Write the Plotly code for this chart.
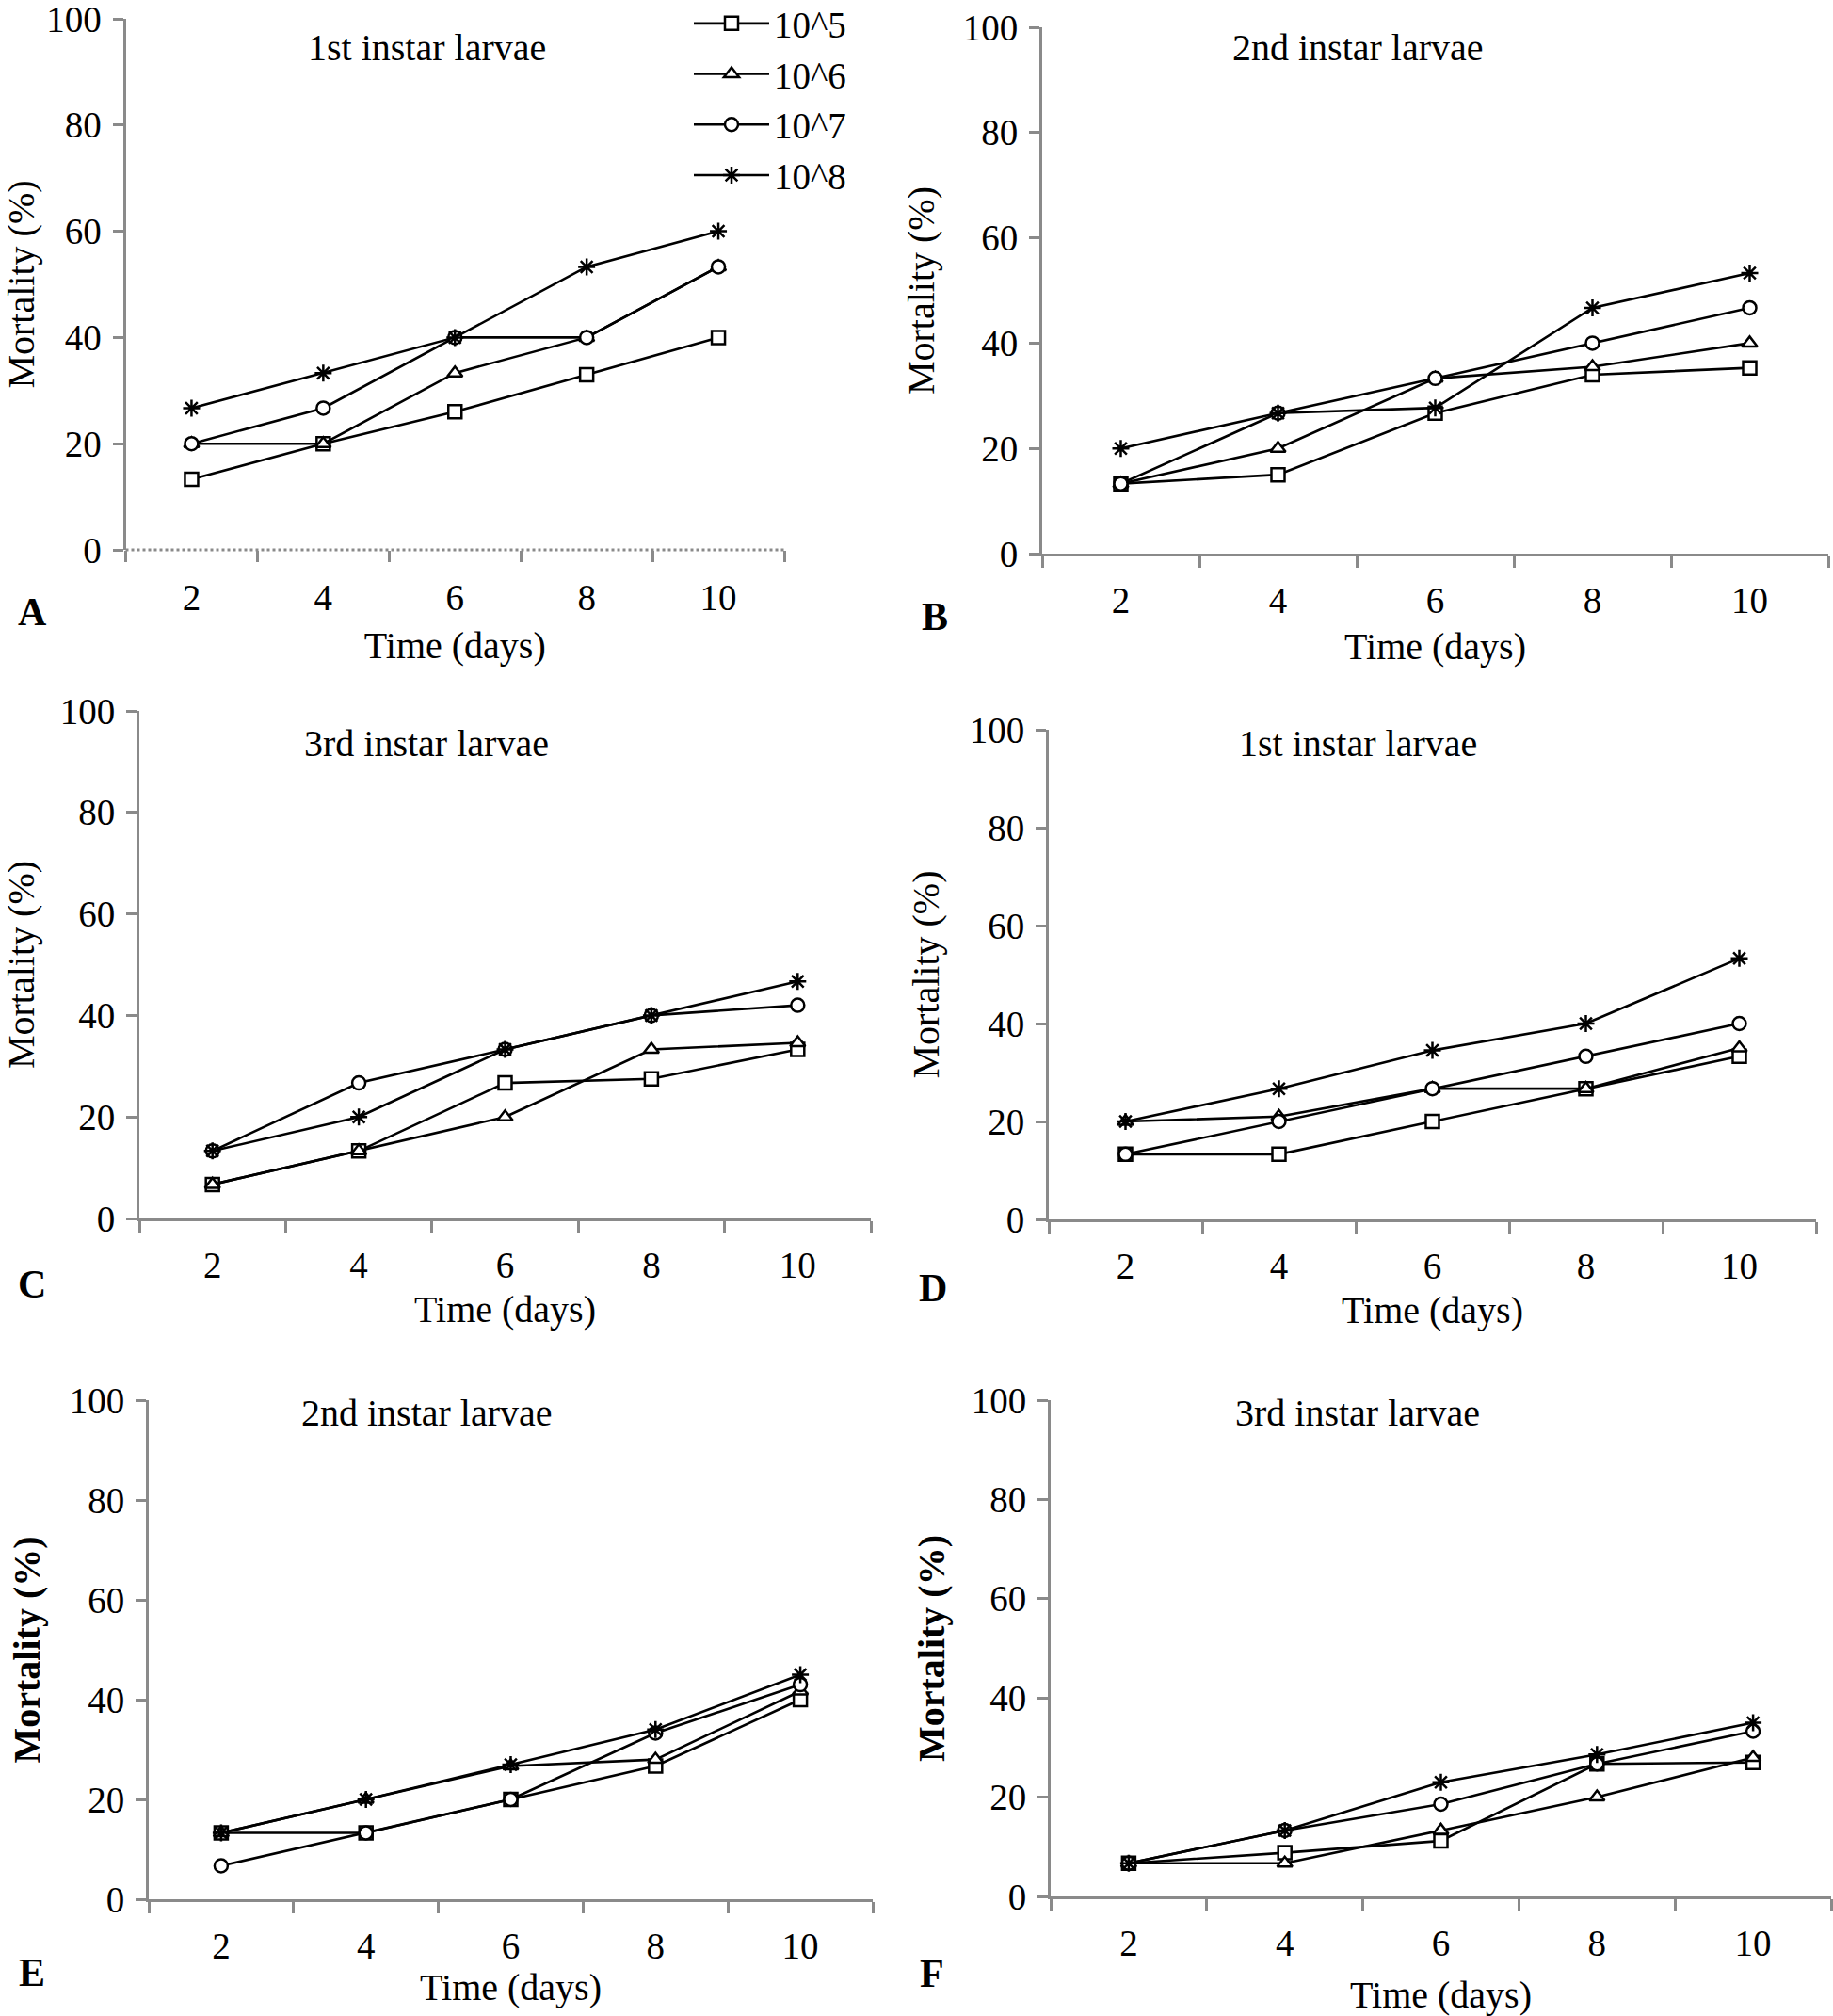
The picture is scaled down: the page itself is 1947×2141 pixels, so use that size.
import plotly.graph_objects as go

# ---------------- data ----------------
days = [2, 4, 6, 8, 10]
day_labels = ["2", "4", "6", "8", "10"]
series_names = ["10^5", "10^6", "10^7", "10^8"]
y_ticks = [0, 20, 40, 60, 80, 100]

a_1e5 = [13.3, 20, 26, 33, 40]
a_1e6 = [20, 20, 33.3, 40, 53.3]
a_1e7 = [20, 26.7, 40, 40, 53.3]
a_1e8 = [26.7, 33.3, 40, 53.3, 60]

b_1e5 = [13.3, 15, 26.7, 34, 35.3]
b_1e6 = [13.3, 20, 33.3, 35.5, 40]
b_1e7 = [13.3, 26.7, 33.3, 40, 46.7]
b_1e8 = [20, 26.7, 27.7, 46.7, 53.3]

c_1e5 = [6.7, 13.3, 26.7, 27.5, 33.3]
c_1e6 = [6.7, 13.3, 20, 33.3, 34.6]
c_1e7 = [13.3, 26.7, 33.3, 40, 42]
c_1e8 = [13.3, 20, 33.3, 40, 46.7]

d_1e5 = [13.3, 13.3, 20, 26.7, 33.3]
d_1e6 = [20, 21, 26.7, 26.7, 35]
d_1e7 = [13.3, 20, 26.7, 33.3, 40]
d_1e8 = [20, 26.7, 34.5, 40, 53.3]

e_1e5 = [13.3, 13.3, 20, 26.7, 40]
e_1e6 = [13.3, 20, 26.7, 28, 41.7]
e_1e7 = [6.7, 13.3, 20, 33.3, 43]
e_1e8 = [13.3, 20, 27, 34, 45]

f_1e5 = [6.7, 8.8, 11.2, 26.7, 27]
f_1e6 = [6.7, 6.7, 13.3, 20, 28]
f_1e7 = [6.7, 13.3, 18.6, 26.7, 33.3]
f_1e8 = [6.7, 13.3, 23, 28.6, 35]

panel_letters = ["A", "B", "C", "D", "E", "F"]
panel_titles = ["1st instar larvae", "2nd instar larvae", "3rd instar larvae",
                "1st instar larvae", "2nd instar larvae", "3rd instar larvae"]
panel_series = [
    [a_1e5, a_1e6, a_1e7, a_1e8],
    [b_1e5, b_1e6, b_1e7, b_1e8],
    [c_1e5, c_1e6, c_1e7, c_1e8],
    [d_1e5, d_1e6, d_1e7, d_1e8],
    [e_1e5, e_1e6, e_1e7, e_1e8],
    [f_1e5, f_1e6, f_1e7, f_1e8],
]
x_title = "Time (days)"
y_title = "Mortality (%)"

# ---------------- layout geometry (page pixels) ----------------
W, H = 1947, 2141


def px(v):
    return v / W


def py(v):
    return 1 - v / H


# left, right, top(100), bottom(0)
boxes = [
    (133.5, 833, 20, 584),
    (1107, 1942, 29, 588),
    (148, 925, 755, 1294),
    (1114, 1929, 775, 1295),
    (158, 927, 1487, 2017),
    (1116, 1945, 1487, 2014),
]
title_pos = [(453, 50), (1442, 51), (453, 789), (1442, 789), (453, 1500), (1442, 1500)]
letter_pos = [(34, 650), (993, 655), (34, 1364), (991, 1368), (34, 2095), (990, 2096)]
ytitle_bold = [False, False, False, False, True, True]
ytitle_standoff = [27, 18, 38, 20, 19, 16]
xtick_standoff = [24, 13, 13, 13, 13, 13]
xtitle_standoff = [15, 15, 13, 13, 9, 23]

symbols = ["square", "triangle-up", "circle", "asterisk-open"]
FONT = "Liberation Serif"
GRAY = "#8a8a8a"

fig = go.Figure()
layout = dict(
    width=W, height=H,
    margin=dict(l=0, r=0, t=0, b=0, autoexpand=False),
    paper_bgcolor="white", plot_bgcolor="white",
    font=dict(family=FONT, size=40, color="black"),
    showlegend=True,
    legend=dict(x=px(732), y=py(-7), xanchor="left", yanchor="top",
                font=dict(family=FONT, size=39, color="black"),
                bgcolor="rgba(0,0,0,0)", itemwidth=80, tracegroupgap=0),
)
annotations = []
shapes = []

for i, series in enumerate(panel_series):
    n = "" if i == 0 else str(i + 1)
    xa, ya = "x" + n, "y" + n
    l, r, t, b = boxes[i]
    for k, vals in enumerate(series):
        sym = symbols[k]
        is_open = sym.endswith("-open")
        fig.add_trace(go.Scatter(
            x=days, y=vals, xaxis=xa, yaxis=ya, mode="lines+markers",
            name=series_names[k], showlegend=(i == 0),
            line=dict(color="black", width=2.6),
            marker=dict(symbol=sym, size=14 if not is_open else 15,
                        color="white" if not is_open else "black",
                        line=dict(color="black", width=2.5)),
        ))
    layout["xaxis" + n] = dict(
        domain=[px(l), px(r)], anchor=ya, range=[1, 11],
        tickmode="array", tickvals=days, ticktext=day_labels, ticks="",
        ticklabelstandoff=xtick_standoff[i], ticklabeloverflow="allow",
        minor=dict(tickmode="array", tickvals=[1, 3, 5, 7, 9, 11], ticks="outside",
                   ticklen=12, tickwidth=3, tickcolor=GRAY, showgrid=False),
        showline=(i != 0), linecolor=GRAY, linewidth=3,
        showgrid=False, zeroline=False,
        tickfont=dict(family=FONT, size=39, color="black"),
        title=dict(text=x_title, font=dict(family=FONT, size=40, color="black"),
                   standoff=xtitle_standoff[i]),
    )
    layout["yaxis" + n] = dict(
        domain=[py(b), py(t)], anchor=xa, range=[0, 100],
        tickmode="array", tickvals=y_ticks, ticks="outside", ticklen=11,
        tickwidth=3, tickcolor=GRAY, ticklabelstandoff=4, ticklabeloverflow="allow",
        showline=True, linecolor=GRAY, linewidth=3,
        showgrid=False, zeroline=False,
        tickfont=dict(family=FONT, size=39, color="black"),
        title=dict(text=y_title,
                   font=dict(family=FONT, size=40, color="black",
                             weight="bold" if ytitle_bold[i] else "normal"),
                   standoff=ytitle_standoff[i]),
    )
    tx, ty = title_pos[i]
    annotations.append(dict(text=panel_titles[i], x=px(tx), y=py(ty),
                            xref="paper", yref="paper", showarrow=False,
                            xanchor="center", yanchor="middle",
                            font=dict(family=FONT, size=40, color="black")))
    lx, ly = letter_pos[i]
    annotations.append(dict(text="<b>" + panel_letters[i] + "</b>", x=px(lx), y=py(ly),
                            xref="paper", yref="paper", showarrow=False,
                            xanchor="center", yanchor="middle",
                            font=dict(family=FONT, size=42, color="black")))
    if i == 0:
        shapes.append(dict(type="line", xref=xa + " domain", yref=ya + " domain",
                           x0=0, x1=1, y0=0, y1=0,
                           line=dict(color=GRAY, width=3, dash="dot")))

layout["annotations"] = annotations
layout["shapes"] = shapes
fig.update_layout(**layout)
# remove the default 8px page margin so the figure sits at the page origin
fig.write_html("out.html", config={"displayModeBar": False},
               post_script="document.body.style.margin='0px';")
